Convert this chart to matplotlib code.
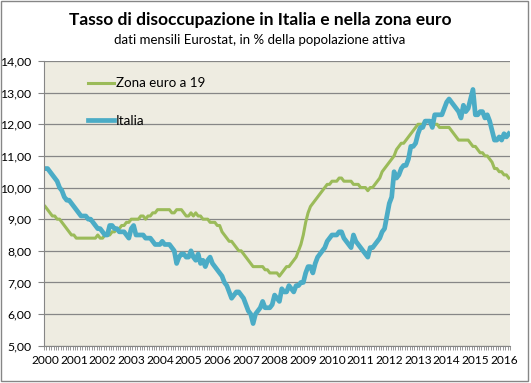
import matplotlib
matplotlib.use("Agg")
import matplotlib.pyplot as plt
import numpy as np
from matplotlib.patches import Rectangle
from matplotlib.ticker import FixedLocator, FuncFormatter

plt.rcParams["font.family"] = ["Lato", "DejaVu Sans"]

#----Dati mensili gen 2000 - mar 2016----
anni = list(range(2000, 2017))

italia = [
    10.6, 10.6, 10.5, 10.4, 10.3, 10.2, 10.0, 9.9, 9.7, 9.6, 9.6, 9.5,   # 2000
    9.4, 9.3, 9.2, 9.1, 9.1, 9.1, 9.0, 9.0, 8.9, 8.8, 8.7, 8.7,          # 2001
    8.6, 8.5, 8.5, 8.8, 8.8, 8.7, 8.7, 8.6, 8.6, 8.6, 8.5, 8.4,          # 2002
    8.7, 8.8, 8.5, 8.5, 8.5, 8.5, 8.4, 8.4, 8.4, 8.3, 8.2, 8.2,          # 2003
    8.2, 8.3, 8.2, 8.2, 8.2, 8.1, 8.0, 7.6, 7.8, 7.9, 7.9, 7.8,          # 2004
    7.8, 8.0, 7.8, 7.7, 7.9, 7.6, 7.7, 7.5, 7.7, 7.8, 7.6, 7.5,          # 2005
    7.4, 7.3, 7.2, 7.0, 6.9, 6.7, 6.5, 6.6, 6.7, 6.7, 6.6, 6.5,          # 2006
    6.3, 6.1, 6.0, 5.7, 6.0, 6.1, 6.2, 6.4, 6.2, 6.2, 6.2, 6.3,          # 2007
    6.6, 6.5, 6.4, 6.8, 6.7, 6.7, 6.9, 6.8, 6.7, 6.9, 6.9, 7.0,          # 2008
    7.0, 7.3, 7.5, 7.5, 7.3, 7.6, 7.8, 7.9, 8.0, 8.1, 8.3, 8.4,          # 2009
    8.5, 8.5, 8.5, 8.6, 8.6, 8.4, 8.3, 8.2, 8.1, 8.5, 8.3, 8.2,          # 2010
    8.1, 8.0, 7.9, 7.8, 8.1, 8.1, 8.2, 8.3, 8.4, 8.6, 8.7, 9.1,          # 2011
    9.5, 9.7, 10.5, 10.3, 10.4, 10.6, 10.7, 10.7, 10.9, 11.3, 11.3, 11.4,  # 2012
    11.7, 11.9, 11.9, 12.1, 12.1, 12.1, 11.9, 12.3, 12.3, 12.3, 12.3, 12.5,  # 2013
    12.7, 12.8, 12.7, 12.6, 12.5, 12.4, 12.2, 12.6, 12.4, 12.5, 12.8, 13.1,  # 2014
    12.3, 12.3, 12.4, 12.4, 12.2, 12.3, 12.1, 11.8, 11.5, 11.5, 11.6, 11.5,  # 2015
    11.7, 11.6, 11.7,                                                        # 2016
]

zona_euro = [
    9.4, 9.3, 9.2, 9.1, 9.1, 9.0, 9.0, 8.9, 8.8, 8.7, 8.6, 8.5,          # 2000
    8.5, 8.4, 8.4, 8.4, 8.4, 8.4, 8.4, 8.4, 8.4, 8.4, 8.5, 8.4,          # 2001
    8.4, 8.5, 8.5, 8.5, 8.6, 8.6, 8.7, 8.7, 8.8, 8.8, 8.9, 8.9,          # 2002
    9.0, 9.0, 9.0, 9.0, 9.1, 9.1, 9.0, 9.1, 9.1, 9.2, 9.2, 9.3,          # 2003
    9.3, 9.3, 9.3, 9.3, 9.3, 9.2, 9.2, 9.3, 9.3, 9.3, 9.2, 9.1,          # 2004
    9.1, 9.2, 9.1, 9.2, 9.1, 9.1, 9.0, 9.0, 9.0, 8.9, 8.9, 8.9,          # 2005
    8.8, 8.8, 8.6, 8.5, 8.4, 8.3, 8.3, 8.2, 8.1, 8.0, 8.0, 7.9,          # 2006
    7.8, 7.7, 7.6, 7.5, 7.5, 7.5, 7.5, 7.5, 7.4, 7.4, 7.3, 7.3,          # 2007
    7.3, 7.3, 7.2, 7.3, 7.4, 7.5, 7.5, 7.6, 7.7, 7.8, 8.0, 8.2,          # 2008
    8.5, 8.9, 9.2, 9.4, 9.5, 9.6, 9.7, 9.8, 9.9, 10.0, 10.1, 10.1,       # 2009
    10.2, 10.2, 10.2, 10.3, 10.3, 10.2, 10.2, 10.2, 10.2, 10.1, 10.1, 10.1,  # 2010
    10.0, 10.0, 10.0, 9.9, 10.0, 10.0, 10.1, 10.2, 10.3, 10.5, 10.6, 10.7,   # 2011
    10.8, 10.9, 11.0, 11.2, 11.3, 11.4, 11.4, 11.5, 11.6, 11.7, 11.8, 11.9,  # 2012
    12.0, 12.0, 12.0, 12.1, 12.1, 12.1, 12.0, 12.0, 12.0, 11.9, 11.9, 11.9,  # 2013
    11.9, 11.9, 11.8, 11.7, 11.6, 11.5, 11.5, 11.5, 11.5, 11.5, 11.4, 11.3,  # 2014
    11.3, 11.2, 11.1, 11.1, 11.0, 11.0, 10.9, 10.8, 10.6, 10.6, 10.5, 10.5,  # 2015
    10.4, 10.4, 10.3,                                                        # 2016
]

mesi = np.arange(len(italia))

fig = plt.figure(figsize=(5.31, 3.83), dpi=100)
ax = fig.add_axes([44 / 531, 1 - 345.7 / 383, 466 / 531, 284.7 / 383])
ax.set_facecolor("#EEECE1")

ax.plot(mesi, zona_euro, c="#9BBB59", lw=2.2, label="Zona euro a 19", solid_joinstyle="round")
ax.plot(mesi, italia, c="#4BACC6", lw=3.4, label="Italia", solid_joinstyle="round")

ax.set_xlim(-0.5, len(italia) - 0.5)
ax.set_ylim(5, 14)

# griglia orizzontale
ax.set_yticks(np.arange(5, 15, 1))
ax.yaxis.set_major_formatter(FuncFormatter(lambda v, p: f"{v:.2f}".replace(".", ",")))
ax.grid(axis="y", color="#868686", lw=0.9)
ax.set_axisbelow(True)

# asse x: etichette anni e tacche mensili
ax.xaxis.set_major_locator(FixedLocator([12 * (a - 2000) for a in anni]))
ax.set_xticklabels([str(a) for a in anni])
ax.xaxis.set_minor_locator(FixedLocator(np.arange(-0.5, len(italia), 1)))
ax.tick_params(axis="x", which="major", length=0, pad=7, labelsize=8.6)
ax.tick_params(axis="x", which="minor", length=3, color="#868686", width=0.6)
ax.tick_params(axis="y", which="major", length=4, color="#868686", labelsize=8.8, pad=5)

for s in ["top", "right"]:
    ax.spines[s].set_visible(False)
ax.spines["left"].set_color("#868686")
ax.spines["bottom"].set_color("#868686")

ax.legend(loc="upper left", bbox_to_anchor=(0.068, 0.985), frameon=False,
          fontsize=9.6, handlelength=2.0, handletextpad=0.1, labelspacing=1.9)

fig.text(0.49, 0.947, "Tasso di disoccupazione in Italia e nella zona euro",
         ha="center", va="center", fontsize=12.5, fontweight="bold")
fig.text(0.489, 0.895, "dati mensili Eurostat, in % della popolazione attiva",
         ha="center", va="center", fontsize=9.5)

fig.patches.append(Rectangle((0.001, 0.004), 0.993, 0.994, transform=fig.transFigure,
                             fill=False, edgecolor="#868686", lw=1))

plt.savefig("out.png", dpi=100)
